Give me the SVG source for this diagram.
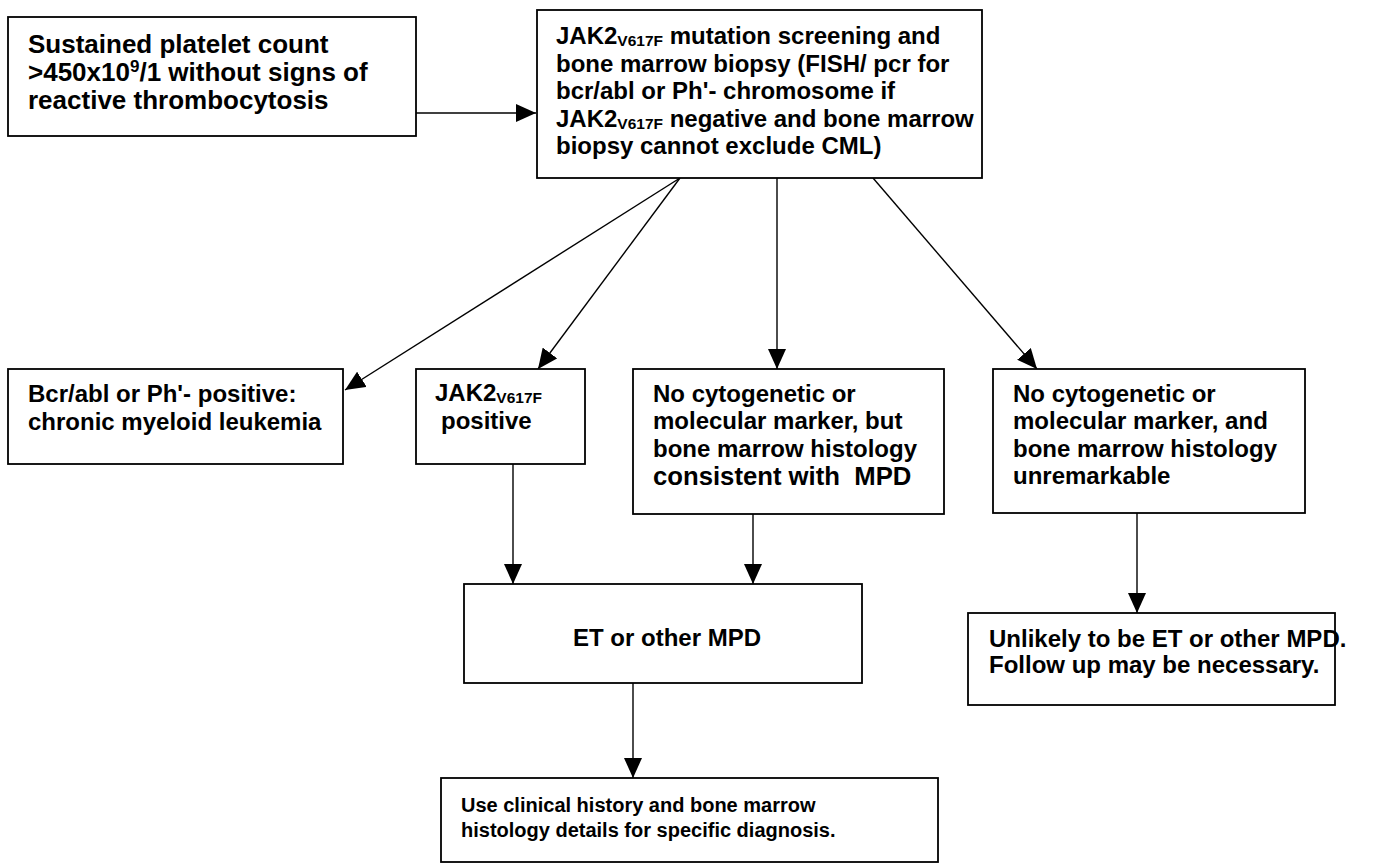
<svg xmlns="http://www.w3.org/2000/svg" width="1381" height="868" viewBox="0 0 1381 868">
<style>
.box{fill:#fff;stroke:#000;stroke-width:1.8}
.t{font-family:"Liberation Sans",Arial,sans-serif;font-weight:bold;fill:#000}
.c{stroke:#000;stroke-width:1.4;fill:none;marker-end:url(#ah)}
</style>
<defs>
<marker id="ah" markerUnits="userSpaceOnUse" markerWidth="20" markerHeight="18" refX="20" refY="9" orient="auto">
<path d="M0,0 L20,9 L0,18 z" fill="#000"/>
</marker>
</defs>
<rect width="1381" height="868" fill="#fff"/>
<g id="connectors">
<line class="c" x1="416" y1="113" x2="536" y2="113"/>
<line class="c" x1="680" y1="178" x2="345" y2="390"/>
<line class="c" x1="680" y1="178" x2="538" y2="369"/>
<line class="c" x1="777" y1="178" x2="777" y2="369"/>
<line class="c" x1="873" y1="178" x2="1037" y2="369"/>
<line class="c" x1="513" y1="464" x2="513" y2="584"/>
<line class="c" x1="753" y1="514" x2="753" y2="584"/>
<line class="c" x1="1137" y1="513" x2="1137" y2="613"/>
<line class="c" x1="633" y1="683" x2="633" y2="778"/>
</g>
<g id="n1">
<rect class="box" x="8" y="17" width="408" height="119"/>
<text class="t" font-size="26"><tspan x="28" y="53">Sustained platelet count</tspan><tspan x="28" y="81">&gt;450x10<tspan font-size="17" dy="-9">9</tspan><tspan dy="9">/1 without signs of</tspan></tspan><tspan x="28" y="109">reactive thrombocytosis</tspan></text>
</g>
<g id="n2">
<rect class="box" x="537" y="10" width="445" height="168"/>
<text class="t" font-size="24"><tspan x="556" y="44">JAK2<tspan font-size="15.5" dy="2">V617F</tspan><tspan dy="-2"> mutation screening and</tspan></tspan><tspan x="556" y="72">bone marrow biopsy (FISH/ pcr for</tspan><tspan x="556" y="99">bcr/abl or Ph'- chromosome if</tspan><tspan x="556" y="127">JAK2<tspan font-size="15.5" dy="2">V617F</tspan><tspan dy="-2"> negative and bone marrow</tspan></tspan><tspan x="556" y="154">biopsy cannot exclude CML)</tspan></text>
</g>
<g id="n3">
<rect class="box" x="8" y="369" width="335" height="95"/>
<text class="t" font-size="24"><tspan x="28" y="402">Bcr/abl or Ph'- positive:</tspan><tspan x="28" y="430">chronic myeloid leukemia</tspan></text>
</g>
<g id="n4">
<rect class="box" x="416" y="369" width="169" height="95"/>
<text class="t" font-size="24"><tspan x="435" y="401">JAK2<tspan font-size="15.5" dy="2">V617F</tspan></tspan><tspan x="441" y="429">positive</tspan></text>
</g>
<g id="n5">
<rect class="box" x="633" y="369" width="311" height="145"/>
<text class="t" font-size="24"><tspan x="653" y="402">No cytogenetic or</tspan><tspan x="653" y="429">molecular marker, but</tspan><tspan x="653" y="457">bone marrow histology</tspan><tspan x="653" y="485" font-size="25.7" xml:space="preserve">consistent with  MPD</tspan></text>
</g>
<g id="n6">
<rect class="box" x="993" y="369" width="312" height="144"/>
<text class="t" font-size="24"><tspan x="1013" y="402">No cytogenetic or</tspan><tspan x="1013" y="429">molecular marker, and</tspan><tspan x="1013" y="457">bone marrow histology</tspan><tspan x="1013" y="484">unremarkable</tspan></text>
</g>
<g id="n7">
<rect class="box" x="464" y="584" width="398" height="99"/>
<text class="t" font-size="24" x="667" y="646" text-anchor="middle">ET or other MPD</text>
</g>
<g id="n8">
<rect class="box" x="968" y="613" width="367" height="92"/>
<text class="t" font-size="24"><tspan x="989" y="647">Unlikely to be ET or other MPD.</tspan><tspan x="989" y="673">Follow up may be necessary.</tspan></text>
</g>
<g id="n9">
<rect class="box" x="441" y="778" width="497" height="84"/>
<text class="t" font-size="20"><tspan x="461" y="812">Use clinical history and bone marrow</tspan><tspan x="461" y="837">histology details for specific diagnosis.</tspan></text>
</g>
</svg>
